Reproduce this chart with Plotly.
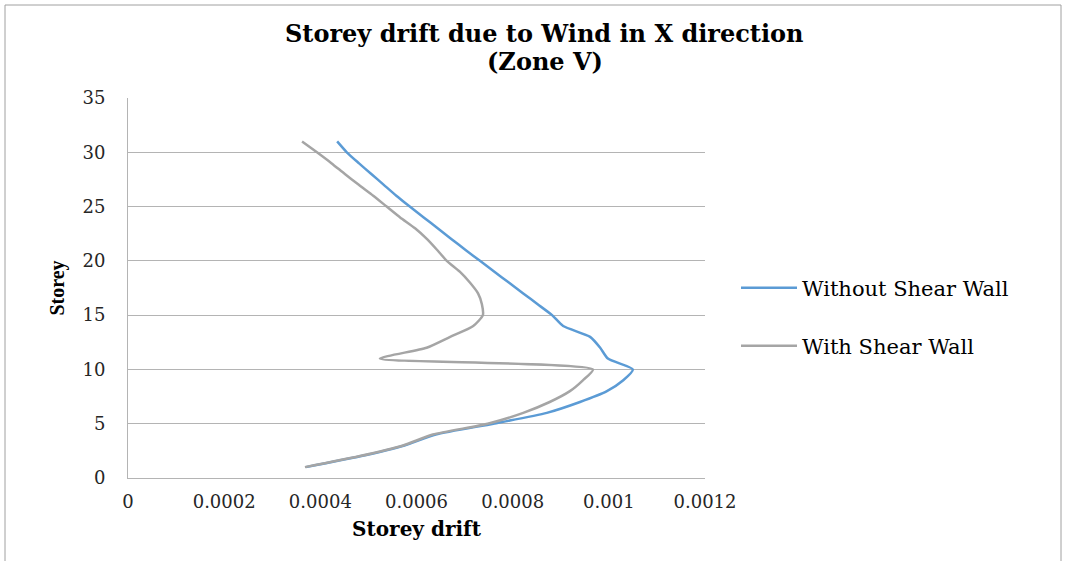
import plotly.graph_objects as go

storey = list(range(1, 32))

without_shear_wall = [
    0.000370, 0.000483, 0.000575, 0.000640, 0.000760, 0.000871, 0.000940, 0.000996,
    0.001030, 0.001050, 0.000998, 0.000982, 0.000961, 0.000905, 0.000882, 0.000852,
    0.000822, 0.000792, 0.000762, 0.000732, 0.000702, 0.000673, 0.000644, 0.000615,
    0.000586, 0.000558, 0.000532, 0.000506, 0.000480, 0.000455, 0.000435,
]

with_shear_wall = [
    0.000368, 0.000480, 0.000572, 0.000634, 0.000748, 0.000822, 0.000877, 0.000919,
    0.000946, 0.000967, 0.000524, 0.000621, 0.000670, 0.000718, 0.000738, 0.000736,
    0.000728, 0.000711, 0.000690, 0.000663, 0.000643, 0.000622, 0.000597, 0.000566,
    0.000538, 0.000510, 0.000480, 0.000451, 0.000423, 0.000393, 0.000362,
]

x_ticks = [0, 0.0002, 0.0004, 0.0006, 0.0008, 0.001, 0.0012]
x_tick_labels = ["0", "0.0002", "0.0004", "0.0006", "0.0008", "0.001", "0.0012"]
y_ticks = [0, 5, 10, 15, 20, 25, 30, 35]
title_lines = ["Storey drift due to Wind in X direction", "(Zone V)"]

WIDE = "DejaVu Serif, serif"
SERIF = "Liberation Serif, Times New Roman, serif"

fig = go.Figure()
fig.add_trace(go.Scatter(
    x=without_shear_wall, y=storey, mode="lines", name="Without Shear Wall",
    line=dict(color="#5B9BD5", width=2.5, shape="spline", smoothing=0.6),
    legend="legend",
))
fig.add_trace(go.Scatter(
    x=with_shear_wall, y=storey, mode="lines", name="With Shear Wall",
    line=dict(color="#A5A5A5", width=2.5, shape="spline", smoothing=0.6),
    legend="legend2",
))

L, R, T, B = 128, 705, 98, 478
W, H = 1065, 561
pw, ph = R - L, B - T

def px(xp):
    return (xp - L) / pw

def py(yp):
    return (B - yp) / ph

annotations = [
    dict(text=f"<b>{title_lines[0]}</b>", xref="paper", yref="paper",
         x=px(544), y=py(34), xanchor="center", yanchor="middle", showarrow=False,
         font=dict(family=WIDE, size=24, color="black")),
    dict(text=f"<b>{title_lines[1]}</b>", xref="paper", yref="paper",
         x=px(545), y=py(62), xanchor="center", yanchor="middle", showarrow=False,
         font=dict(family=WIDE, size=24, color="black")),
]

fig.update_layout(
    width=W, height=H,
    margin=dict(l=L, r=W - R, t=T, b=H - B),
    paper_bgcolor="white", plot_bgcolor="white",
    font=dict(family=WIDE, color="#262626"),
    xaxis=dict(
        range=[0, 0.0012], tickvals=x_ticks, ticktext=x_tick_labels,
        showgrid=False, zeroline=False, showline=True, linecolor="#B4B4B4", linewidth=1,
        ticks="", ticklabelstandoff=7,
        tickfont=dict(family=WIDE, size=18, color="#262626"),
        title=dict(text="<b>Storey drift</b>", font=dict(family=WIDE, size=20, color="black"), standoff=11),
    ),
    yaxis=dict(
        range=[0, 35], tickvals=y_ticks,
        showgrid=True, gridcolor="#B4B4B4", gridwidth=1, zeroline=False,
        showline=True, linecolor="#B4B4B4", linewidth=1,
        ticks="", ticklabelstandoff=18,
        tickfont=dict(family=WIDE, size=18, color="#262626"),
        title=dict(text="<b>Storey</b>", font=dict(family=SERIF, size=20, color="black"), standoff=12),
    ),
    legend=dict(
        x=px(736), y=py(288), xanchor="left", yanchor="middle",
        font=dict(family=WIDE, size=21, color="black"), bgcolor="rgba(0,0,0,0)",
        itemwidth=56,
    ),
    legend2=dict(
        x=px(736), y=py(346), xanchor="left", yanchor="middle",
        font=dict(family=WIDE, size=21, color="black"), bgcolor="rgba(0,0,0,0)",
        itemwidth=56,
    ),
    annotations=annotations,
    shapes=[dict(
        type="rect", xref="paper", yref="paper",
        x0=px(5), x1=px(1061), y0=py(580), y1=py(5),
        line=dict(color="#A0A0A0", width=1), fillcolor="rgba(0,0,0,0)", layer="below",
    )],
    showlegend=True,
)

fig.write_html("out.html")
